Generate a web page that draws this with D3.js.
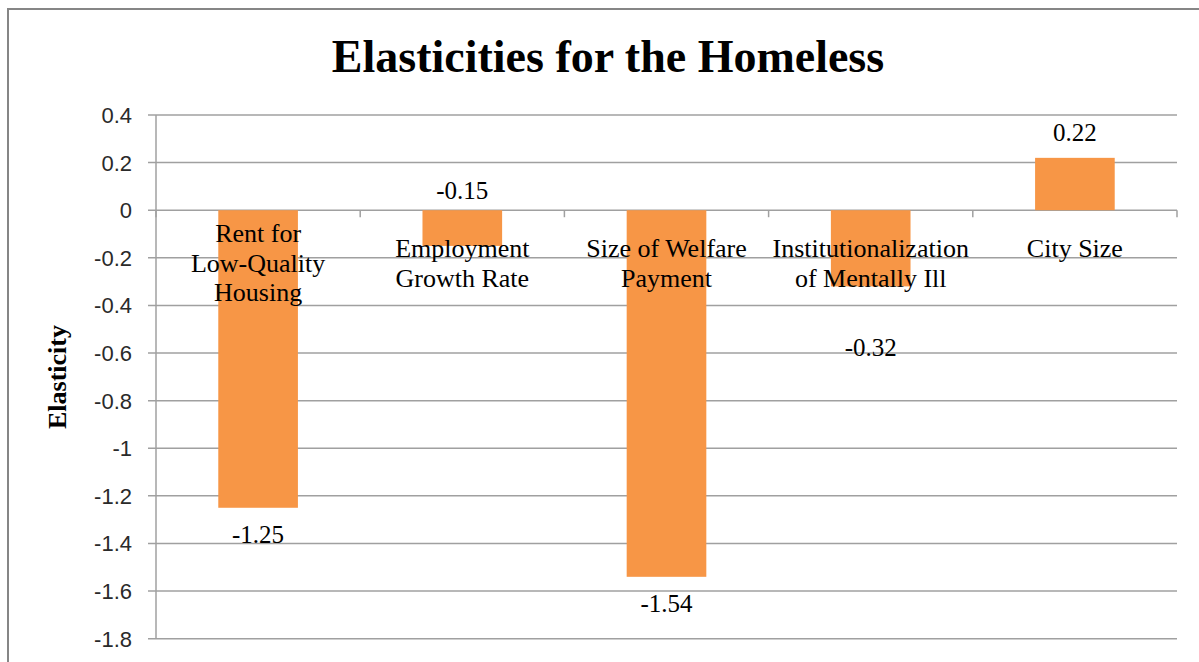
<!DOCTYPE html>
<html>
<head>
<meta charset="utf-8">
<script src="https://cdn.jsdelivr.net/npm/d3@7"></script>
<style>
  body { margin: 0; background: #fff; }
</style>
</head>
<body>
<div id="chart"></div>
<script>
// data
var categories = [
  ["Rent for", "Low-Quality", "Housing"],
  ["Employment", "Growth Rate"],
  ["Size of Welfare", "Payment"],
  ["Institutionalization", "of Mentally Ill"],
  ["City Size"]
];
var elasticity = [-1.25, -0.15, -1.54, -0.32, 0.22];
var yTicks = [0.4, 0.2, 0, -0.2, -0.4, -0.6, -0.8, -1, -1.2, -1.4, -1.6, -1.8];

var W = 1199, H = 662;
var plotL = 156, plotR = 1177, plotT = 115, plotB = 638.7;

// plain hyphen for negatives, as the original sheet prints them
var fmtTick = d3.formatLocale({decimal: ".", thousands: ",", grouping: [3], currency: ["", ""], minus: "-"}).format("");
var fmtVal = d3.formatLocale({decimal: ".", thousands: ",", grouping: [3], currency: ["", ""], minus: "-"}).format(".2f");

var svg = d3.select("#chart")
  .append("svg")
  .attr("width", W)
  .attr("height", H);

// outer chart frame
svg.append("rect")
  .attr("x", 8).attr("y", 9)
  .attr("width", 1220).attr("height", 700)
  .attr("fill", "#fff")
  .attr("stroke", "#868686")
  .attr("stroke-width", 2);

var x = d3.scaleBand()
  .domain(d3.range(categories.length))
  .range([plotL, plotR])
  .paddingInner(0.61)
  .paddingOuter(0.305);

var y = d3.scaleLinear()
  .domain([-1.8, 0.4])
  .range([plotB, plotT]);

var step = x.step();

// gridlines
svg.append("g")
  .selectAll("line")
  .data(yTicks)
  .enter()
  .append("line")
  .attr("x1", plotL - 8)
  .attr("x2", plotR)
  .attr("y1", function(d) { return y(d); })
  .attr("y2", function(d) { return y(d); })
  .attr("stroke", "#a0a0a0")
  .attr("stroke-width", 1.5);

// y axis line
svg.append("line")
  .attr("x1", plotL).attr("x2", plotL)
  .attr("y1", y(0.4)).attr("y2", y(-1.8))
  .attr("stroke", "#a0a0a0")
  .attr("stroke-width", 1.5);

// y tick labels
svg.append("g")
  .selectAll("text")
  .data(yTicks)
  .enter()
  .append("text")
  .attr("x", 132)
  .attr("y", function(d) { return y(d); })
  .attr("dy", "0.36em")
  .attr("text-anchor", "end")
  .attr("font-family", "Liberation Sans, Arial, sans-serif")
  .attr("font-size", 22)
  .attr("fill", "#2a2a2a")
  .text(function(d) { return fmtTick(d); });

// bars
svg.append("g")
  .selectAll("rect")
  .data(elasticity)
  .enter()
  .append("rect")
  .attr("x", function(d, i) { return x(i); })
  .attr("width", x.bandwidth())
  .attr("y", function(d) { return y(Math.max(0, d)); })
  .attr("height", function(d) { return Math.abs(y(d) - y(0)); })
  .attr("fill", "#f79646");

// category ticks on the zero line
var bounds = d3.range(categories.length + 1).map(function(i) { return plotL + i * step; });
svg.append("g")
  .selectAll("line")
  .data(bounds)
  .enter()
  .append("line")
  .attr("x1", function(d) { return d; })
  .attr("x2", function(d) { return d; })
  .attr("y1", y(0))
  .attr("y2", y(0) + 7)
  .attr("stroke", "#a0a0a0")
  .attr("stroke-width", 1.5);

// category labels, sitting at the zero line
var lineH = 29.5;
var cat = svg.append("g")
  .selectAll("text")
  .data(categories)
  .enter()
  .append("text")
  .attr("text-anchor", "middle")
  .attr("font-family", "Liberation Serif, Times New Roman, serif")
  .attr("font-size", 26)
  .attr("fill", "#000");

cat.each(function(lines, i) {
  var first = y(0) + 47 - Math.max(0, lines.length - 2) * lineH / 2;
  d3.select(this).selectAll("tspan")
    .data(lines)
    .enter()
    .append("tspan")
    .attr("x", x(i) + x.bandwidth() / 2)
    .attr("y", function(d, j) { return first + j * lineH; })
    .text(function(d) { return d; });
});

// value labels
svg.append("g")
  .selectAll("text")
  .data(elasticity)
  .enter()
  .append("text")
  .attr("x", function(d, i) { return x(i) + x.bandwidth() / 2; })
  .attr("y", function(d) {
    if (d >= 0) return y(d) - 17;
    if (d > -0.2) return y(0) - 11;           // no room below: put it over the axis
    if (d > -0.5) return y(0) + 146;          // pushed below the category text
    return y(d) + 35;
  })
  .attr("text-anchor", "middle")
  .attr("font-family", "Liberation Serif, Times New Roman, serif")
  .attr("font-size", 25)
  .attr("fill", "#000")
  .text(function(d) { return fmtVal(d); });

// titles
svg.append("text")
  .attr("x", 608)
  .attr("y", 72)
  .attr("text-anchor", "middle")
  .attr("font-family", "Liberation Serif, Times New Roman, serif")
  .attr("font-weight", "bold")
  .attr("font-size", 46)
  .text("Elasticities for the Homeless");

svg.append("text")
  .attr("transform", "translate(66,377) rotate(-90)")
  .attr("text-anchor", "middle")
  .attr("font-family", "Liberation Serif, Times New Roman, serif")
  .attr("font-weight", "bold")
  .attr("font-size", 26)
  .text("Elasticity");
</script>
</body>
</html>
